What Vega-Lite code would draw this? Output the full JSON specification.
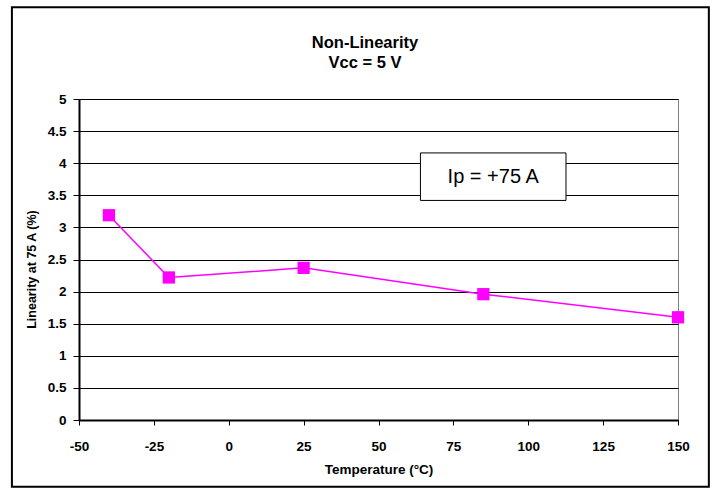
{
  "$schema": "https://vega.github.io/schema/vega-lite/v6.json",
  "width": 599,
  "height": 321,
  "autosize": {"type": "none"},
  "padding": {"left": 79, "top": 99, "right": 40, "bottom": 69},
  "background": "white",
  "config": {
    "view": {"stroke": "#808080", "strokeWidth": 1},
    "font": "Liberation Sans",
    "axis": {
      "labelExpr": "'' + datum.value",
      "domainColor": "black",
      "domainWidth": 2,
      "tickColor": "black",
      "tickWidth": 1,
      "labelOverlap": false,
      "labelFont": "Liberation Sans",
      "labelFontSize": 13.5,
      "labelFontWeight": "bold",
      "labelColor": "black",
      "titleFont": "Liberation Sans",
      "titleFontWeight": "bold",
      "titleColor": "black"
    },
    "axisX": {
      "grid": false,
      "tickSize": 5,
      "labelFlush": false,
      "labelPadding": 14,
      "titleFontSize": 13.5,
      "titlePadding": 10
    },
    "axisY": {
      "grid": true,
      "gridColor": "black",
      "gridOpacity": 1,
      "gridWidth": 1,
      "tickSize": 6,
      "labelPadding": 7,
      "titleFontSize": 12.5,
      "titlePadding": 9,
      "titleY": 170
    }
  },
  "datasets": {
    "series": [
      {"temp": -40, "lin": 3.19},
      {"temp": -20, "lin": 2.22},
      {"temp": 25, "lin": 2.37},
      {"temp": 85, "lin": 1.96},
      {"temp": 150, "lin": 1.6}
    ],
    "note": [{"label": "Ip = +75 A"}],
    "heading": [{"label": "Non-Linearity\nVcc = 5 V"}]
  },
  "layer": [
    {
      "data": {"name": "series"},
      "mark": {"type": "line", "color": "#FF00FF", "strokeWidth": 1.5},
      "encoding": {
        "x": {
          "field": "temp",
          "type": "quantitative",
          "scale": {"domain": [-50, 150], "nice": false, "zero": false},
          "axis": {"values": [-50, -25, 0, 25, 50, 75, 100, 125, 150], "title": "Temperature (°C)"}
        },
        "y": {
          "field": "lin",
          "type": "quantitative",
          "scale": {"domain": [0, 5], "nice": false},
          "axis": {"values": [0, 0.5, 1, 1.5, 2, 2.5, 3, 3.5, 4, 4.5, 5], "title": "Linearity at 75 A (%)"}
        }
      }
    },
    {
      "data": {"name": "series"},
      "mark": {"type": "point", "shape": "square", "filled": true, "color": "#FF00FF", "size": 150, "opacity": 1},
      "encoding": {
        "x": {"field": "temp", "type": "quantitative", "axis": {"values": [-50, -25, 0, 25, 50, 75, 100, 125, 150], "title": "Temperature (°C)"}},
        "y": {"field": "lin", "type": "quantitative", "axis": {"values": [0, 0.5, 1, 1.5, 2, 2.5, 3, 3.5, 4, 4.5, 5], "title": "Linearity at 75 A (%)"}}
      }
    },
    {
      "data": {"name": "note"},
      "mark": {"type": "rect", "fill": "white", "stroke": "black", "strokeWidth": 1},
      "encoding": {
        "x": {"datum": 64, "type": "quantitative", "axis": {"values": [-50, -25, 0, 25, 50, 75, 100, 125, 150], "title": "Temperature (°C)"}},
        "x2": {"datum": 112.6},
        "y": {"datum": 4.16, "type": "quantitative", "axis": {"values": [0, 0.5, 1, 1.5, 2, 2.5, 3, 3.5, 4, 4.5, 5], "title": "Linearity at 75 A (%)"}},
        "y2": {"datum": 3.42}
      }
    },
    {
      "data": {"name": "note"},
      "mark": {"type": "text", "font": "Liberation Sans", "fontSize": 20, "color": "black", "align": "center", "baseline": "middle"},
      "encoding": {
        "x": {"datum": 88.3, "type": "quantitative", "axis": {"values": [-50, -25, 0, 25, 50, 75, 100, 125, 150], "title": "Temperature (°C)"}},
        "y": {"datum": 3.79, "type": "quantitative", "axis": {"values": [0, 0.5, 1, 1.5, 2, 2.5, 3, 3.5, 4, 4.5, 5], "title": "Linearity at 75 A (%)"}},
        "text": {"field": "label"}
      }
    },
    {
      "data": {"name": "heading"},
      "mark": {"type": "text", "font": "Liberation Sans", "fontSize": 16.5, "fontWeight": "bold", "color": "black", "align": "center", "baseline": "middle", "lineBreak": "\n", "lineHeight": 20},
      "encoding": {
        "x": {"datum": 45.5, "type": "quantitative", "axis": {"values": [-50, -25, 0, 25, 50, 75, 100, 125, 150], "title": "Temperature (°C)"}},
        "y": {"datum": 5.87, "type": "quantitative", "axis": {"values": [0, 0.5, 1, 1.5, 2, 2.5, 3, 3.5, 4, 4.5, 5], "title": "Linearity at 75 A (%)"}},
        "text": {"field": "label"}
      }
    },
    {
      "data": {"name": "note"},
      "mark": {"type": "rect", "fill": null, "filled": false, "stroke": "black", "strokeWidth": 2},
      "encoding": {
        "x": {"datum": -72.4, "type": "quantitative", "axis": {"values": [-50, -25, 0, 25, 50, 75, 100, 125, 150], "title": "Temperature (°C)"}},
        "x2": {"datum": 160.3},
        "y": {"datum": 6.43, "type": "quantitative", "axis": {"values": [0, 0.5, 1, 1.5, 2, 2.5, 3, 3.5, 4, 4.5, 5], "title": "Linearity at 75 A (%)"}},
        "y2": {"datum": -1.04}
      }
    }
  ]
}
